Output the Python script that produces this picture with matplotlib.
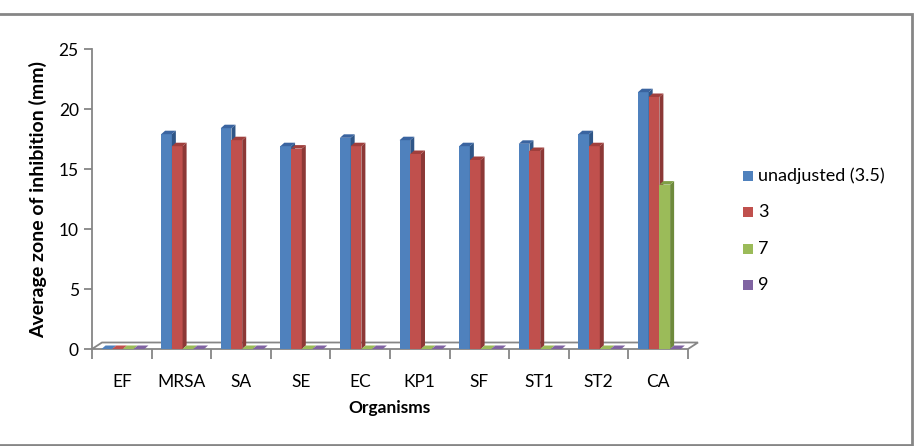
import numpy as np
import matplotlib.pyplot as plt
from matplotlib.patches import Polygon, Rectangle

# data
organisms = ['EF', 'MRSA', 'SA', 'SE', 'EC', 'KP1', 'SF', 'ST1', 'ST2', 'CA']
unadjusted = [0, 17.9, 18.4, 16.9, 17.6, 17.4, 16.9, 17.1, 17.9, 21.4]
ph3 = [0, 16.9, 17.4, 16.7, 16.9, 16.25, 15.75, 16.5, 16.9, 21.0]
ph7 = [0, 0, 0, 0, 0, 0, 0, 0, 0, 13.7]
ph9 = [0, 0, 0, 0, 0, 0, 0, 0, 0, 0]
series_names = ['unadjusted (3.5)', '3', '7', '9']

face = ['#4F81BD', '#C0504D', '#9BBB59', '#8064A2']
side = ['#2F5687', '#8C3836', '#6E8A3C', '#5C4776']
top = ['#3A64A0', '#A03F3C', '#7F9F45', '#6A5290']

plt.rcParams['font.family'] = ['Lato', 'DejaVu Sans']

fig = plt.figure(figsize=(9.2, 4.46), dpi=100)
W, H = 920, 446
x0px, x1px, y0px, y1px = 92, 688, 349, 49
ax = fig.add_axes([x0px / W, 1 - y0px / H, (x1px - x0px) / W, (y0px - y1px) / H])
ax.set_xlim(-0.5, 9.5)
ax.set_ylim(0, 25)

# pixel -> data conversions for the fake 3d depth
px_x = 10.0 / (x1px - x0px)
px_y = 25.0 / (y0px - y1px)

x = np.arange(len(organisms))
w = 0.18
offs = np.array([-1.5, -0.5, 0.5, 1.5]) * w + 0.02
bdx, bdy = 4 * px_x, 3.5 * px_y
fdx, fdy = 10 * px_x, 6.5 * px_y

# floor
floor = Polygon([(-0.5, 0), (-0.5 + fdx, fdy), (9.5 + fdx, fdy), (9.5, 0)],
                closed=True, facecolor='white', edgecolor='#868686', lw=1.3,
                clip_on=False, zorder=1)
ax.add_patch(floor)

data = [unadjusted, ph3, ph7, ph9]
for k, vals in enumerate(data):
    xs = x + offs[k] - w / 2
    ax.bar(xs, vals, width=w, align='edge', color=face[k], zorder=3 + k,
           clip_on=False)
    for xi, v in zip(xs, vals):
        if v > 0:
            ax.add_patch(Polygon([(xi + w, 0), (xi + w + bdx, bdy),
                                  (xi + w + bdx, v + bdy), (xi + w, v)],
                                 closed=True, facecolor=side[k], lw=0,
                                 zorder=3 + k, clip_on=False))
        ax.add_patch(Polygon([(xi, v), (xi + bdx, v + bdy),
                              (xi + w + bdx, v + bdy), (xi + w, v)],
                             closed=True, facecolor=top[k] if v > 0 else face[k],
                             lw=0, zorder=3 + k, clip_on=False))

for s in ['top', 'right', 'bottom']:
    ax.spines[s].set_visible(False)
ax.spines['left'].set_color('#868686')
ax.spines['left'].set_linewidth(1.3)

ax.set_yticks([0, 5, 10, 15, 20, 25])
ax.tick_params(axis='y', colors='#868686', length=6, width=1.3,
               labelcolor='black', labelsize=12.5)
ax.set_xticks(x)
ax.set_xticklabels(organisms)
ax.tick_params(axis='x', length=0, labelsize=12.5, pad=18)
ax.set_xticks(np.arange(-0.5, 10, 1), minor=True)
ax.tick_params(axis='x', which='minor', colors='#868686', length=7, width=1.3)

ax.set_ylabel('Average zone of inhibition (mm)', fontsize=14,
              fontweight='bold', labelpad=8)
ax.set_xlabel('Organisms', fontsize=12.5, fontweight='bold', labelpad=7)

# legend
for k, name in enumerate(series_names):
    yy = 176 + k * 36.3
    fig.patches.append(Rectangle((743 / W, 1 - (yy + 5) / H), 10 / W, 10 / H,
                                 transform=fig.transFigure, facecolor=face[k],
                                 lw=0))
    fig.text(758 / W, 1 - yy / H, name, fontsize=13, va='center')

# chart border
fig.patches.append(Rectangle((-0.01, 1 - 445 / H), 912 / W + 0.01, (445 - 14) / H,
                             transform=fig.transFigure, fill=False,
                             edgecolor='#868686', lw=2))

fig.savefig('out.png', dpi=100)
